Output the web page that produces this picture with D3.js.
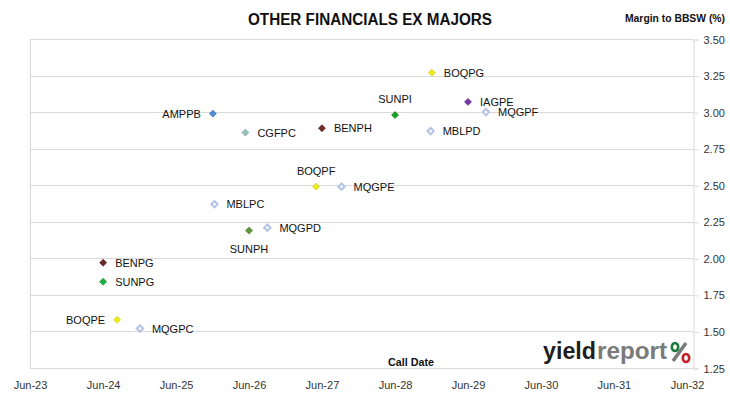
<!DOCTYPE html>
<html>
<head>
<meta charset="utf-8">
<script src="https://cdn.jsdelivr.net/npm/d3@7"></script>
<style>
  body { margin: 0; background: #fff; }
  text { font-family: "Liberation Sans", Arial, sans-serif; }
</style>
</head>
<body>
<script>
// hybrid securities - call date vs margin
const codes = ["BOQPE","MQGPC","BENPG","SUNPG","AMPPB","MBLPC","CGFPC","SUNPH","MQGPD",
               "BOQPF","BENPH","MQGPE","SUNPI","MBLPD","BOQPG","IAGPE","MQGPF"]
const callDates = ["2024-09-08","2024-12-31","2024-06-30","2024-06-30","2025-12-31","2026-01-08",
                   "2026-06-12","2026-06-30","2026-09-30","2027-06-01","2027-06-30","2027-10-06",
                   "2028-06-30","2028-12-25","2028-12-31","2029-06-30","2029-09-28"]
const margins = [1.58, 1.52, 1.97, 1.84, 2.99, 2.37, 2.86, 2.19, 2.21,
                 2.49, 2.89, 2.49, 2.98, 2.87, 3.27, 3.07, 3.00]
const xTicks = ["2023-06-30","2024-06-30","2025-06-30","2026-06-30","2027-06-30",
                "2028-06-30","2029-06-30","2030-06-30","2031-06-30","2032-06-30"]
const yTicks = [1.25, 1.50, 1.75, 2.00, 2.25, 2.50, 2.75, 3.00, 3.25, 3.50]

const parse = d3.timeParse("%Y-%m-%d")

// colours by issuer / series
const colour = {
  BOQPE:"#eded1c", BOQPF:"#eded1c", BOQPG:"#eded1c",
  MQGPC:"#b4c4e6", MQGPD:"#b4c4e6", MQGPE:"#b4c4e6", MQGPF:"#b4c4e6",
  MBLPC:"#b4c4e6", MBLPD:"#b4c4e6",
  BENPG:"#6e2a2a", BENPH:"#6e2a2a",
  SUNPG:"#16b040", SUNPI:"#16a020", SUNPH:"#5e9a3c",
  AMPPB:"#4f8ad2", CGFPC:"#95c2b6", IAGPE:"#7433a4"
}
const hollow = {MQGPC:1, MQGPD:1, MQGPE:1, MQGPF:1, MBLPC:1, MBLPD:1}
// where the label sits relative to the marker
const side = {AMPPB:"left", BOQPE:"left", SUNPI:"top", BOQPF:"top", SUNPH:"bottom"}

const W = 730, H = 399
const svg = d3.select("body").append("svg").attr("width", W).attr("height", H)

const x = d3.scaleTime()
  .domain([parse(xTicks[0]), parse(xTicks[xTicks.length-1])])
  .range([30, 687])
const y = d3.scaleLinear().domain([1.25, 3.5]).range([368, 39])
const right = x(parse("2032-07-30"))

// gridlines
svg.append("g").selectAll("line").data(yTicks).enter().append("line")
  .attr("x1", 30).attr("x2", right)
  .attr("y1", d => Math.round(y(d)) + 0.5).attr("y2", d => Math.round(y(d)) + 0.5)
  .attr("stroke", "#d9d9d9")
// frame left / right
svg.append("line").attr("x1", 30.5).attr("x2", 30.5).attr("y1", y(3.5)).attr("y2", y(1.25))
  .attr("stroke", "#d9d9d9")

// right axis
const yAxis = svg.append("g").attr("transform", "translate(" + (Math.round(right) + 0.5) + ",0.5)")
  .call(d3.axisRight(y).tickValues(yTicks).tickFormat(d3.format(".2f")).tickSize(5).tickPadding(5))
yAxis.select(".domain").attr("stroke", "#d9d9d9")
yAxis.selectAll(".tick line").attr("stroke", "#d9d9d9")
yAxis.selectAll("text").attr("font-size", 11).attr("fill", "#333")

// bottom labels
const xAxis = svg.append("g").attr("transform", "translate(0,378)")
  .call(d3.axisBottom(x).tickValues(xTicks.map(parse)).tickFormat(d3.timeFormat("%b-%y")).tickSize(0))
xAxis.select(".domain").remove()
xAxis.selectAll("text").attr("font-size", 11).attr("fill", "#333")

// titles
svg.append("text").attr("x", 370).attr("y", 25).attr("text-anchor", "middle")
  .attr("font-size", 16).attr("font-weight", "bold").attr("fill", "#111")
  .attr("textLength", 244).attr("lengthAdjust", "spacingAndGlyphs")
  .text("OTHER FINANCIALS EX MAJORS")
svg.append("text").attr("x", 625).attr("y", 22)
  .attr("font-size", 10).attr("font-weight", "bold").attr("fill", "#111")
  .attr("textLength", 100).attr("lengthAdjust", "spacingAndGlyphs")
  .text("Margin to BBSW (%)")
svg.append("text").attr("x", 411).attr("y", 366).attr("text-anchor", "middle")
  .attr("font-size", 11).attr("font-weight", "bold").attr("fill", "#111")
  .attr("textLength", 46).attr("lengthAdjust", "spacingAndGlyphs")
  .text("Call Date")

// logo
const logo = svg.append("g")
logo.append("text").attr("x", 543).attr("y", 359)
  .attr("font-size", 23).attr("font-weight", "bold").attr("fill", "#1e1e1e")
  .attr("textLength", 53).attr("lengthAdjust", "spacingAndGlyphs").text("yield")
logo.append("text").attr("x", 597).attr("y", 359)
  .attr("font-size", 23).attr("font-weight", "bold").attr("fill", "#7a7a7a")
  .attr("textLength", 70).attr("lengthAdjust", "spacingAndGlyphs").text("report")
logo.append("line").attr("x1", 673).attr("y1", 361).attr("x2", 686).attr("y2", 343)
  .attr("stroke", "#7a7a7a").attr("stroke-width", 3.5)
logo.append("ellipse").attr("cx", 675).attr("cy", 347).attr("rx", 3.2).attr("ry", 4)
  .attr("fill", "none").attr("stroke", "#1d7a3a").attr("stroke-width", 2.6)
logo.append("ellipse").attr("cx", 686).attr("cy", 358).attr("rx", 3.2).attr("ry", 4)
  .attr("fill", "none").attr("stroke", "#c8202a").attr("stroke-width", 2.6)

// points
const pts = codes.map((c, i) => ({code: c, date: parse(callDates[i]), m: margins[i]}))
const diamond = d3.symbol().type(d3.symbolDiamond2).size(30)

const g = svg.append("g").selectAll("g").data(pts).enter().append("g")
  .attr("transform", d => "translate(" + x(d.date) + "," + y(d.m) + ")")

g.append("path")
  .attr("d", d => hollow[d.code] ? d3.symbol().type(d3.symbolDiamond2).size(26)() : diamond())
  .attr("fill", d => hollow[d.code] ? "#fff" : colour[d.code])
  .attr("stroke", d => hollow[d.code] ? colour[d.code] : d3.color(colour[d.code]).darker(0.4))
  .attr("stroke-width", d => hollow[d.code] ? 2 : 0.8)

g.append("text")
  .attr("font-size", 11).attr("fill", "#111")
  .attr("text-anchor", d => side[d.code] == "left" ? "end" : (side[d.code] ? "middle" : "start"))
  .attr("x", d => side[d.code] == "left" ? -12 : (side[d.code] ? 0 : 12))
  .attr("y", d => side[d.code] == "top" ? -12 : (side[d.code] == "bottom" ? 22 : 4))
  .text(d => d.code)
</script>
</body>
</html>
